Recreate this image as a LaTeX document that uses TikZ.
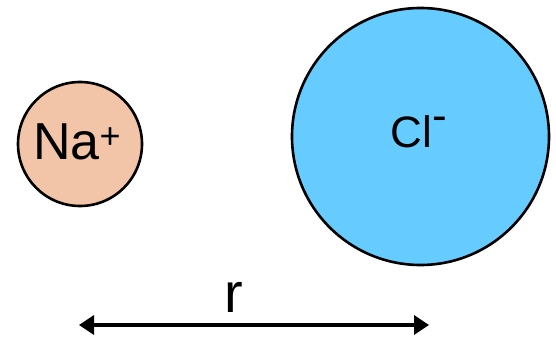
\documentclass[tikz,border=0pt]{standalone}
\usepackage{fontspec}
\setmainfont{Liberation Sans}
\usetikzlibrary{arrows.meta}
\definecolor{nafill}{RGB}{242,196,168}
\definecolor{clfill}{RGB}{102,204,255}
\tikzset{
  ion/.style={circle,draw=black,line width=2.6pt,inner sep=0pt},
  iontext/.style={inner sep=0pt,outer sep=0pt},
  dist/.style={line width=3.2pt,{Triangle[length=15pt,width=19pt]}-{Triangle[length=15pt,width=19pt]}}
}
\begin{document}
\begin{tikzpicture}[x=1pt,y=-1pt]
\useasboundingbox (0,0) rectangle (556,339);
\node[ion,fill=nafill,minimum size=124pt] (na) at (80,144) {};
\node[ion,fill=clfill,minimum size=257pt] (cl) at (420.5,136.5) {};
\node[iontext,font=\fontsize{52}{52}\selectfont] (natext) at (77,141.5) {Na\raisebox{11pt}{\fontsize{36}{36}\selectfont +}};
\node[iontext,font=\fontsize{44}{44}\selectfont] (cltext) at (419,132) {Cl\raisebox{17pt}{-}};
\coordinate (a) at (79,325);
\coordinate (b) at (429,325);
\draw[dist] (a) -- (b);
\node[iontext,font=\fontsize{56}{56}\selectfont] (r) at (234,297.5) {r};
\end{tikzpicture}
\end{document}
